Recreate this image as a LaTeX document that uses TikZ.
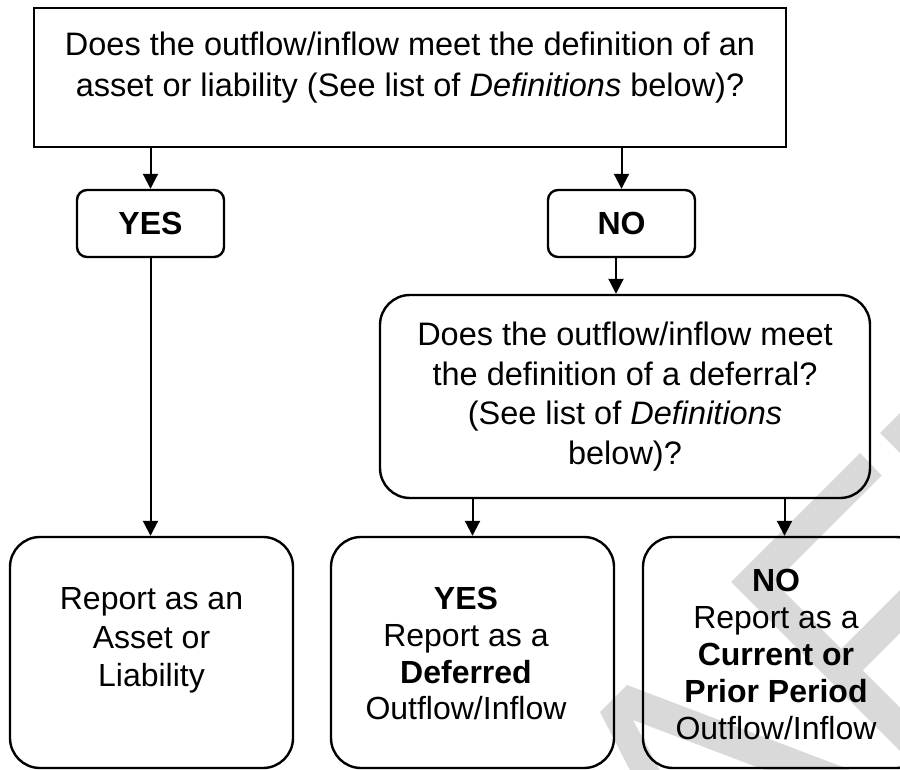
\documentclass[tikz,border=0pt]{standalone}
\usepackage{fontspec}
\setmainfont{Liberation Sans}
\usetikzlibrary{arrows.meta}
\definecolor{wmgray}{RGB}{217,217,217}
\begin{document}
\begin{tikzpicture}[x=1pt,y=-1pt,
  boxline/.style={draw, line width=2.4pt, inner sep=0pt},
  sqbox/.style={boxline, rectangle},
  pill/.style={boxline, rounded corners=10pt, minimum width=147pt, minimum height=67pt, font=\fontsize{32}{38}\selectfont\bfseries},
  rbox/.style={boxline, rounded corners=30pt},
  bigbox/.style={rbox, minimum width=283pt, minimum height=231pt},
  txt/.style={align=center, inner sep=0pt},
  arr/.style={line width=2pt, -{Triangle[length=15pt,width=15pt]}},
  wm/.style={fill=wmgray, draw=none}]
\useasboundingbox (0,0) rectangle (900,770);
\fill[white] (0,0) rectangle (900,770);
\clip (0,0) rectangle (900,770);
% watermark fragments
\fill[wm] (880,433) -- (901.6,454.6) -- (941.6,414.6) -- (920,393) -- cycle;
\fill[wm] (860,453) -- (731,582) -- (1031,882) -- (1074.3,882) -- (774.7,582.4) -- (881.6,475.4) -- cycle;
\fill[wm] (841.2,648.9) -- (941.2,548.9) -- (984.1,548.9) -- (862.7,670.4) -- cycle;
\fill[wm] (627,685) -- (927,799) -- (933,834) -- (633,720) -- (665,780) -- (635,780) -- (600,712) -- cycle;
% boxes
\node[sqbox, minimum width=752pt, minimum height=139pt] (qtop) at (410,77.5) {};
\node[txt, font=\fontsize{32.5}{41}\selectfont] (qtoptext) at (410,68) {Does the outflow/inflow meet the definition of an\\asset or liability (See list of \textit{Definitions} below)?};
\node[pill] (yes) at (150.5,223.5) {YES};
\node[pill] (no) at (621.5,223.5) {NO};
\node[rbox, minimum width=490pt, minimum height=203pt, align=center, font=\fontsize{32.5}{39.5}\selectfont] (def) at (625,396.5) {Does the outflow/inflow meet\\the definition of a deferral?\\(See list of \textit{Definitions}\\below)?};
\node[bigbox] (asset) at (151.5,652.5) {};
\node[txt, font=\fontsize{32}{38.5}\selectfont] (assettext) at (151.5,640.4) {Report as an\\Asset or\\Liability};
\node[bigbox] (deferred) at (472.5,652.5) {};
\node[txt, font=\fontsize{32}{36.7}\selectfont] (deferredtext) at (466,653.8) {\textbf{YES}\\Report as a\\\textbf{Deferred}\\Outflow/Inflow};
\node[bigbox] (nobox) at (784.5,652.5) {};
\node[txt, font=\fontsize{32}{37}\selectfont] (notext) at (776,654.8) {\textbf{NO}\\Report as a\\\textbf{Current or}\\\textbf{Prior Period}\\Outflow/Inflow};
% connectors
\draw[arr] (qtop.south -| yes.north) -- (yes.north);
\draw[arr] (qtop.south -| no.north) -- (no.north);
\draw[arr] ([xshift=-5.5pt]no.south) -- ([xshift=-5.5pt]no.south |- def.north);
\draw[arr] (yes.south) -- (asset.north -| yes.south);
\draw[arr] (def.south -| deferred.north) -- (deferred.north);
\draw[arr] (def.south -| nobox.north) -- (nobox.north);
\end{tikzpicture}
\end{document}
